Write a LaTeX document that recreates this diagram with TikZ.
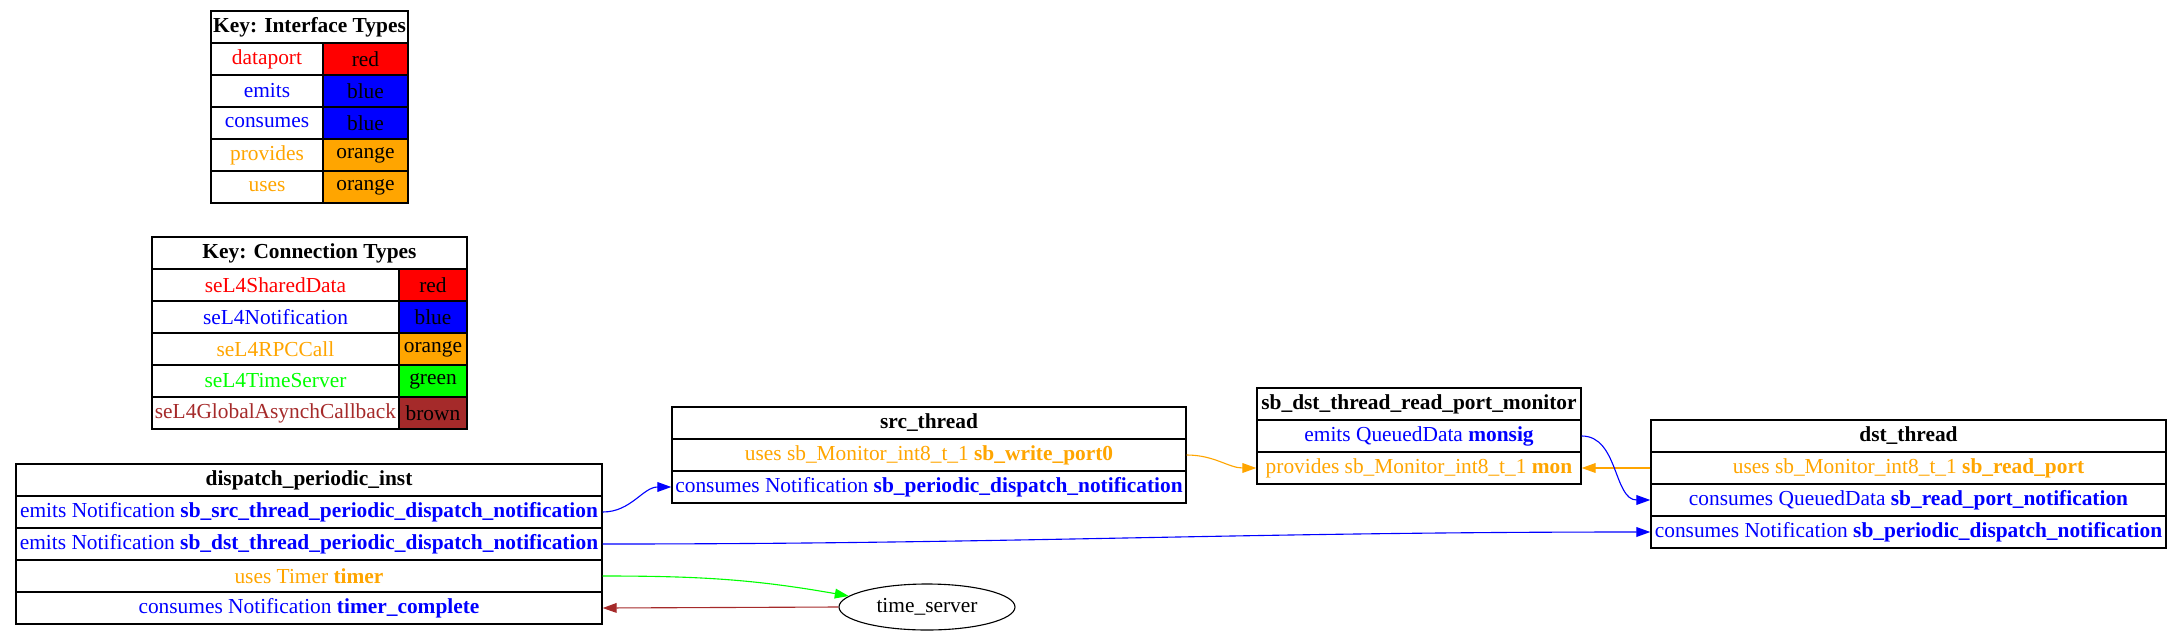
\documentclass[tikz,border=0pt]{standalone}
\usepackage{fontspec}
\setmainfont{Liberation Serif}
\usetikzlibrary{arrows.meta,shapes.geometric}
\newlength\pxl
\setlength\pxl{0.72pt}
\definecolor{gvred}{HTML}{FF0000}
\definecolor{gvblue}{HTML}{0000FF}
\definecolor{gvorange}{HTML}{FFA500}
\definecolor{gvgreen}{HTML}{00FF00}
\definecolor{gvbrown}{HTML}{A52A2A}
\tikzset{
  cell/.style={draw, line width=1pt, inner sep=0pt, minimum height=32\pxl,
    font=\fontsize{15.4}{17}\selectfont},
  head/.style={cell, font=\fontsize{15.4}{17}\selectfont\bfseries},
  conn/.style={line width=0.8pt, -{Triangle[length=10pt,width=7pt]}},
}
\begin{document}
\begin{tikzpicture}[x=0.72pt, y=0.72pt]
\useasboundingbox (0,0) rectangle (2181,-637);
\node[head, minimum width=197\pxl] (ik) at (309.5,-27) {Key: Interface Types};
\node[cell, minimum width=112\pxl, text=gvred] (ik1) at (267,-59) {dataport};
\node[cell, minimum width=85\pxl, fill=gvred] (ik1c) at (365.5,-59) {red};
\node[cell, minimum width=112\pxl, text=gvblue] (ik2) at (267,-91) {emits};
\node[cell, minimum width=85\pxl, fill=gvblue] (ik2c) at (365.5,-91) {blue};
\node[cell, minimum width=112\pxl, text=gvblue] (ik3) at (267,-123) {consumes};
\node[cell, minimum width=85\pxl, fill=gvblue] (ik3c) at (365.5,-123) {blue};
\node[cell, minimum width=112\pxl, text=gvorange] (ik4) at (267,-155) {provides};
\node[cell, minimum width=85\pxl, fill=gvorange] (ik4c) at (365.5,-155) {orange};
\node[cell, minimum width=112\pxl, text=gvorange] (ik5) at (267,-187) {uses};
\node[cell, minimum width=85\pxl, fill=gvorange] (ik5c) at (365.5,-187) {orange};

\node[head, minimum width=315\pxl] (ck) at (309.5,-253) {Key: Connection Types};
\node[cell, minimum width=247\pxl, text=gvred] (ck1) at (275.5,-285) {seL4SharedData};
\node[cell, minimum width=68\pxl, fill=gvred] (ck1c) at (433,-285) {red};
\node[cell, minimum width=247\pxl, text=gvblue] (ck2) at (275.5,-317) {seL4Notification};
\node[cell, minimum width=68\pxl, fill=gvblue] (ck2c) at (433,-317) {blue};
\node[cell, minimum width=247\pxl, text=gvorange] (ck3) at (275.5,-349) {seL4RPCCall};
\node[cell, minimum width=68\pxl, fill=gvorange] (ck3c) at (433,-349) {orange};
\node[cell, minimum width=247\pxl, text=gvgreen] (ck4) at (275.5,-381) {seL4TimeServer};
\node[cell, minimum width=68\pxl, fill=gvgreen] (ck4c) at (433,-381) {green};
\node[cell, minimum width=247\pxl, text=gvbrown] (ck5) at (275.5,-413) {seL4GlobalAsynchCallback};
\node[cell, minimum width=68\pxl, fill=gvbrown] (ck5c) at (433,-413) {brown};

\node[head, minimum width=586\pxl] (dp) at (309,-480) {dispatch\_periodic\_inst};
\node[cell, minimum width=586\pxl, text=gvblue] (dp1) at (309,-512) {emits Notification \textbf{sb\_src\_thread\_periodic\_dispatch\_notification}};
\node[cell, minimum width=586\pxl, text=gvblue] (dp2) at (309,-544) {emits Notification \textbf{sb\_dst\_thread\_periodic\_dispatch\_notification}};
\node[cell, minimum width=586\pxl, text=gvorange] (dp3) at (309,-576) {uses Timer \textbf{timer}};
\node[cell, minimum width=586\pxl, text=gvblue] (dp4) at (309,-608) {consumes Notification \textbf{timer\_complete}};

\node[head, minimum width=514\pxl] (sr) at (929,-423) {src\_thread};
\node[cell, minimum width=514\pxl, text=gvorange] (sr1) at (929,-455) {uses sb\_Monitor\_int8\_t\_1 \textbf{sb\_write\_port0}};
\node[cell, minimum width=514\pxl, text=gvblue] (sr2) at (929,-487) {consumes Notification \textbf{sb\_periodic\_dispatch\_notification}};

\node[head, minimum width=324\pxl] (mo) at (1419,-404) {sb\_dst\_thread\_read\_port\_monitor};
\node[cell, minimum width=324\pxl, text=gvblue] (mo1) at (1419,-436) {emits QueuedData \textbf{monsig}};
\node[cell, minimum width=324\pxl, text=gvorange] (mo2) at (1419,-468) {provides sb\_Monitor\_int8\_t\_1 \textbf{mon}};

\node[head, minimum width=515\pxl] (ds) at (1908.5,-436) {dst\_thread};
\node[cell, minimum width=515\pxl, text=gvorange] (ds1) at (1908.5,-468) {uses sb\_Monitor\_int8\_t\_1 \textbf{sb\_read\_port}};
\node[cell, minimum width=515\pxl, text=gvblue] (ds2) at (1908.5,-500) {consumes QueuedData \textbf{sb\_read\_port\_notification}};
\node[cell, minimum width=515\pxl, text=gvblue] (ds3) at (1908.5,-532) {consumes Notification \textbf{sb\_periodic\_dispatch\_notification}};

\node[draw, ellipse, line width=0.8pt, inner sep=0pt, minimum width=176\pxl, minimum height=46\pxl,
  font=\fontsize{15.4}{17}\selectfont] (ts) at (927,-607) {time\_server};

\draw[conn, gvblue] (dp1.east) to[out=0, in=180] (sr2.west);
\draw[conn, gvblue] (dp2.east) to[out=0, in=180] (ds3.west);
\draw[conn, gvgreen] (dp3.east) to[out=0, in=170] (ts.172);
\draw[conn, gvbrown] (ts.west) -- (dp4.east);
\draw[conn, gvorange] (sr1.east) to[out=0, in=180] (mo2.west);
\draw[conn, gvorange] (ds1.west) -- (mo2.east);
\draw[conn, gvblue] (mo1.east) to[out=0, in=180] (ds2.west);
\end{tikzpicture}
\end{document}
